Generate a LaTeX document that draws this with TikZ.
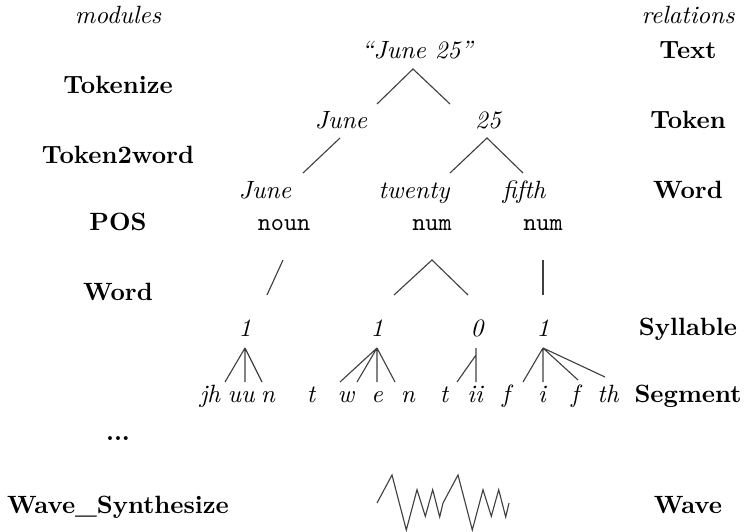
\documentclass[tikz,border=0pt]{standalone}
\begin{document}
\begin{tikzpicture}[x=0.4pt,y=-0.4pt,
  every node/.style={inner sep=0pt,text height=0.7em,text depth=0.2em},
  lbl/.style={font=\bfseries},
  itl/.style={font=\itshape},
  postag/.style={font=\ttfamily},
  br/.style={line width=0.45pt,black!75}]
\useasboundingbox (0,0) rectangle (746,532);
% left column
\node[itl] (mod) at (118,17) {modules};
\node[lbl] (m1) at (118,87) {Tokenize};
\node[lbl] (m2) at (118,157) {Token2word};
\node[lbl] (m3) at (118,224) {POS};
\node[lbl] (m4) at (118,294) {Word};
\node[lbl] (m5) at (118,434) {...};
\node[lbl] (m6) at (118,507) {Wave\_Synthesize};
% right column
\node[itl] (rel) at (688,17) {relations};
\node[lbl] (r1) at (688,52) {Text};
\node[lbl] (r2) at (688,122) {Token};
\node[lbl] (r3) at (688,192) {Word};
\node[lbl] (r4) at (688,329) {Syllable};
\node[lbl] (r5) at (688,396) {Segment};
\node[lbl] (r6) at (688,507) {Wave};
% tree nodes
\node[itl] (txt) at (417,52) {``June 25''};
\node[itl] (tk1) at (341,122) {June};
\node[itl] (tk2) at (488,122) {25};
\node[itl] (w1) at (265,192) {June};
\node[itl] (w2) at (414,192) {twenty};
\node[itl] (w3) at (524,192) {fifth};
\node[postag] (p1) at (284,224) {noun};
\node[postag] (p2) at (432,224) {num};
\node[postag] (p3) at (543,224) {num};
\node[itl] (s1) at (245,330) {1};
\node[itl] (s2) at (377,330) {1};
\node[itl] (s3) at (477,330) {0};
\node[itl] (s4) at (543,330) {1};
\node[itl] (g1) at (210,396) {jh};
\node[itl] (g2) at (241,396) {uu};
\node[itl] (g3) at (268,396) {n};
\node[itl] (g4) at (311,396) {t};
\node[itl] (g5) at (346,396) {w};
\node[itl] (g6) at (377,396) {e};
\node[itl] (g7) at (408,396) {n};
\node[itl] (g8) at (444,396) {t};
\node[itl] (g9) at (475,396) {ii};
\node[itl] (g10) at (506,396) {f};
\node[itl] (g11) at (542,396) {i};
\node[itl] (g12) at (575,396) {f};
\node[itl] (g13) at (608,396) {th};
% branch points
\coordinate (txtA) at (413,69);
\coordinate (tk1T) at (377,104);
\coordinate (tk2T) at (450,104);
\draw[br] (tk1T) -- (txtA) -- (tk2T);
\coordinate (tk1A) at (340,138);
\coordinate (w1T) at (303,173);
\draw[br] (tk1A) -- (w1T);
\coordinate (tk2A) at (487,138);
\coordinate (w2T) at (450,173);
\coordinate (w3T) at (523,173);
\draw[br] (w2T) -- (tk2A) -- (w3T);
\coordinate (p1A) at (283,260);
\coordinate (s1T) at (267,295);
\draw[br] (p1A) -- (s1T);
\coordinate (p2A) at (432,260);
\coordinate (s2T) at (394,295);
\coordinate (s3T) at (468,295);
\draw[br] (s2T) -- (p2A) -- (s3T);
\coordinate (p3A) at (543,260);
\coordinate (s4T) at (543,295);
\draw[br] (p3A) -- (s4T);
% syllable to segments
\coordinate (s1A) at (245,348);
\coordinate (g1T) at (225,382);
\coordinate (g2T) at (245,382);
\coordinate (g3T) at (262,382);
\draw[br] (s1A) -- (g1T) (s1A) -- (g2T) (s1A) -- (g3T);
\coordinate (s2A) at (377,348);
\coordinate (g5T) at (340,382);
\coordinate (g6T) at (357,382);
\coordinate (g6bT) at (377,382);
\coordinate (g7T) at (395,382);
\draw[br] (s2A) -- (g5T) (s2A) -- (g6T) (s2A) -- (g6bT) (s2A) -- (g7T);
\coordinate (s3A) at (476,348);
\coordinate (s3B) at (476,355);
\coordinate (g8T) at (457,382);
\coordinate (g9T) at (476,382);
\draw[br] (s3A) -- (s3B) -- (g8T) (s3B) -- (g9T);
\coordinate (s4A) at (543,348);
\coordinate (g10T) at (523,382);
\coordinate (g11T) at (543,382);
\coordinate (g12T) at (578,380);
\coordinate (g13T) at (605,377);
\draw[br] (s4A) -- (g10T) (s4A) -- (g11T) (s4A) -- (g12T) (s4A) -- (g13T);
% wave
\coordinate (wv) at (377,503);
\draw[br,line join=miter] (wv)
  -- ++(15,-28) -- ++(14.3,55) -- ++(10.7,-40.3) -- ++(8.3,26.6) -- ++(7.4,-26.6) -- ++(7,27.3) -- ++(3.3,-14)
  -- ++(15,-28) -- ++(14.3,55) -- ++(10.7,-40.3) -- ++(8.3,26.6) -- ++(7.4,-26.6) -- ++(7,27.3) -- ++(3.3,-14);
\end{tikzpicture}
\end{document}
